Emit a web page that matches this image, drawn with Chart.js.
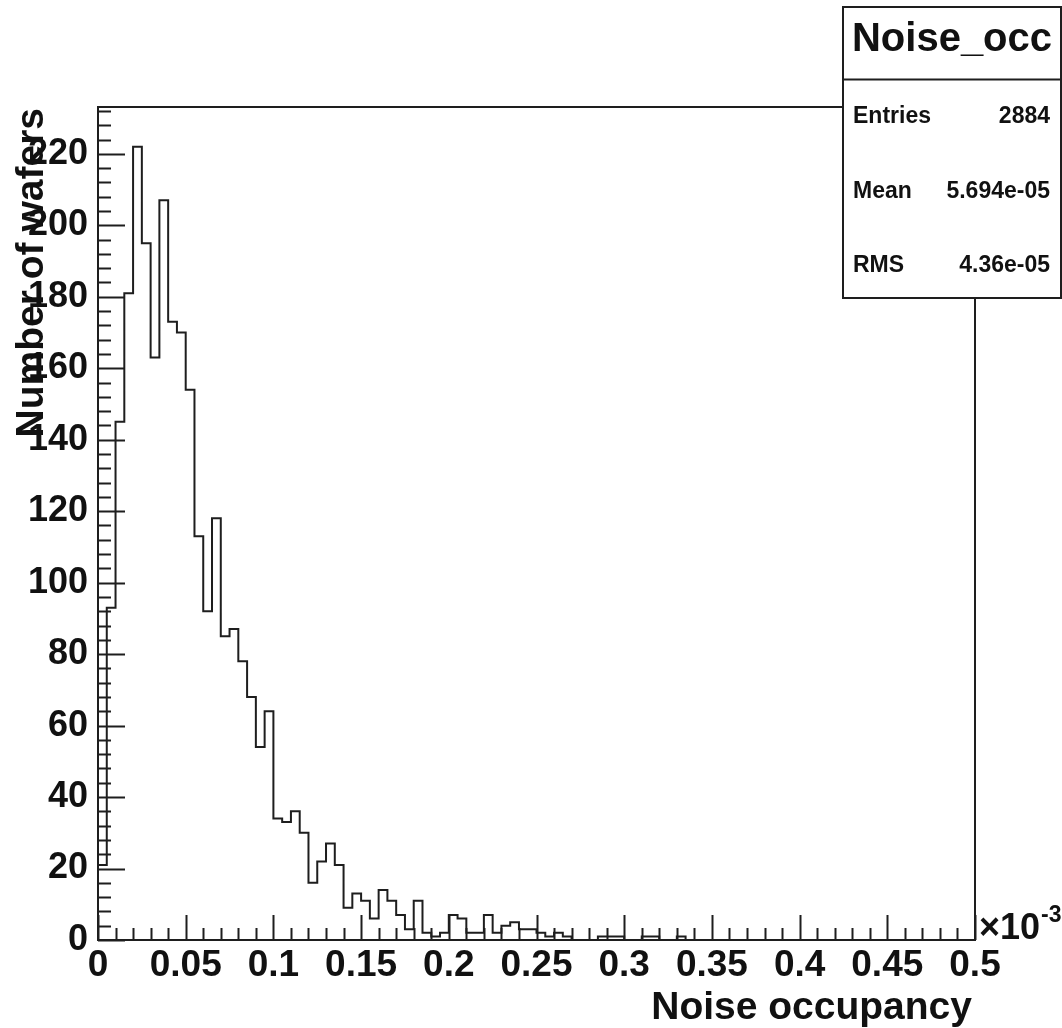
<!DOCTYPE html>
<html>
<head>
<meta charset="utf-8">
<title>Noise_occ</title>
<script src="https://cdn.jsdelivr.net/npm/chart.js@4.4.1/dist/chart.umd.min.js"></script>
<style>
  html, body { margin: 0; padding: 0; background: #fff; }
  #noise { display: block; }
</style>
</head>
<body>
<canvas id="noise" width="1062" height="1028"></canvas>
<script>
// noise occupancy per wafer, 100 bins over [0, 0.5] x 1e-3
const xLow = 0;
const xHigh = 0.5;
const counts = [
  21, 93, 145, 181, 222, 195, 163, 207, 173, 170,
  154, 113, 92, 118, 85, 87, 78, 68, 54, 64,
  34, 33, 36, 30, 16, 22, 27, 21, 9, 13,
  11, 6, 14, 11, 7, 3, 11, 2, 1, 2,
  7, 6, 2, 2, 7, 2, 4, 5, 3, 3,
  2, 1, 2, 1, 0, 0, 0, 1, 1, 1,
  0, 0, 1, 1, 0, 0, 1, 0, 0, 0,
  0, 0, 0, 0, 0, 0, 0, 0, 0, 0,
  0, 0, 0, 0, 0, 0, 0, 0, 0, 0,
  0, 0, 0, 0, 0, 0, 0, 0, 0, 0
];
const histName = 'Noise_occ';
const statNames = ['Entries', 'Mean', 'RMS'];
const statValues = ['2884', '5.694e-05', '4.36e-05'];
const xTitle = 'Noise occupancy';
const yTitle = 'Number of wafers';
const xExponent = '-3';

const ink = '#1e1e1e';
const font = 'Liberation Sans, Arial, Helvetica, sans-serif';
const binWidth = (xHigh - xLow) / counts.length;
const yMax = Math.max(...counts) * 1.05;

// left bin edges, then close the outline at the upper edge
const outline = [{ x: xLow, y: 0 }];
counts.forEach((c, i) => outline.push({ x: xLow + i * binWidth, y: c }));
outline.push({ x: xHigh, y: 0 });

// frame, inward ticks, stats box and axis titles
const rootPad = {
  id: 'rootPad',
  afterDatasetsDraw(chart) {
    const { ctx, chartArea: a, scales: { x, y } } = chart;
    ctx.save();
    ctx.strokeStyle = ink;
    ctx.lineWidth = 2;
    ctx.beginPath();
    for (let i = 0; i * 4 <= yMax; i++) {
      const py = Math.round(y.getPixelForValue(i * 4)) + 0.5;
      ctx.moveTo(a.left, py);
      ctx.lineTo(a.left + (i % 5 === 0 ? 27 : 13), py);
    }
    for (let i = 0; i <= 50; i++) {
      const px = Math.round(x.getPixelForValue(i * 0.01)) + 0.5;
      ctx.moveTo(px, a.bottom);
      ctx.lineTo(px, a.bottom - (i % 5 === 0 ? 25 : 12));
    }
    ctx.stroke();
    ctx.strokeRect(a.left, a.top, a.right - a.left, a.bottom - a.top);

    // stats box
    const bx = 843, by = 7, bw = 218, bh = 291;
    ctx.fillStyle = '#fff';
    ctx.fillRect(bx, by, bw, bh);
    ctx.strokeRect(bx, by, bw, bh);
    ctx.beginPath();
    ctx.moveTo(bx, 79.5);
    ctx.lineTo(bx + bw, 79.5);
    ctx.stroke();

    ctx.fillStyle = '#111';
    ctx.textBaseline = 'alphabetic';
    ctx.textAlign = 'center';
    ctx.font = 'bold 40px ' + font;
    ctx.fillText(histName, bx + bw / 2, 51);
    ctx.font = 'bold 23px ' + font;
    statNames.forEach((name, i) => {
      const base = 123 + i * 74.5;
      ctx.textAlign = 'left';
      ctx.fillText(name, 853, base);
      ctx.textAlign = 'right';
      ctx.fillText(statValues[i], 1050, base);
    });

    // axis titles
    ctx.font = 'bold 39px ' + font;
    ctx.textAlign = 'right';
    ctx.fillText(xTitle, 972, 1019);
    ctx.save();
    ctx.translate(43, 108);
    ctx.rotate(-Math.PI / 2);
    ctx.fillText(yTitle, 0, 0);
    ctx.restore();

    // exponent of the x axis
    ctx.textAlign = 'left';
    ctx.font = 'bold 36px ' + font;
    ctx.fillText('\u00d710', 979, 939);
    const w = ctx.measureText('\u00d710').width;
    ctx.font = 'bold 23px ' + font;
    ctx.fillText(xExponent, 979 + w + 1, 922);
    ctx.restore();
  }
};

new Chart(document.getElementById('noise'), {
  type: 'line',
  data: {
    datasets: [{
      data: outline,
      stepped: true,
      borderColor: ink,
      borderWidth: 2,
      pointRadius: 0,
      fill: false,
      clip: false
    }]
  },
  options: {
    responsive: false,
    animation: false,
    devicePixelRatio: 1,
    layout: { padding: { left: 0, top: 107, right: 87, bottom: 0 } },
    plugins: { legend: { display: false }, tooltip: { enabled: false } },
    scales: {
      x: {
        type: 'linear',
        min: xLow,
        max: xHigh,
        border: { display: false },
        grid: { display: false, drawTicks: false },
        afterFit: s => { s.height = 88; },
        ticks: {
          stepSize: 0.05,
          autoSkip: false,
          maxRotation: 0,
          padding: 4,
          color: '#111',
          font: { family: font, size: 37, weight: 'bold' },
          callback: v => String(+v.toFixed(2))
        }
      },
      y: {
        min: 0,
        max: yMax,
        border: { display: false },
        grid: { display: false, drawTicks: false },
        afterFit: s => { s.width = 98; },
        ticks: {
          stepSize: 20,
          includeBounds: false,
          autoSkip: false,
          padding: 10,
          color: '#111',
          font: { family: font, size: 36, weight: 'bold' }
        }
      }
    }
  },
  plugins: [rootPad]
});
</script>
</body>
</html>
